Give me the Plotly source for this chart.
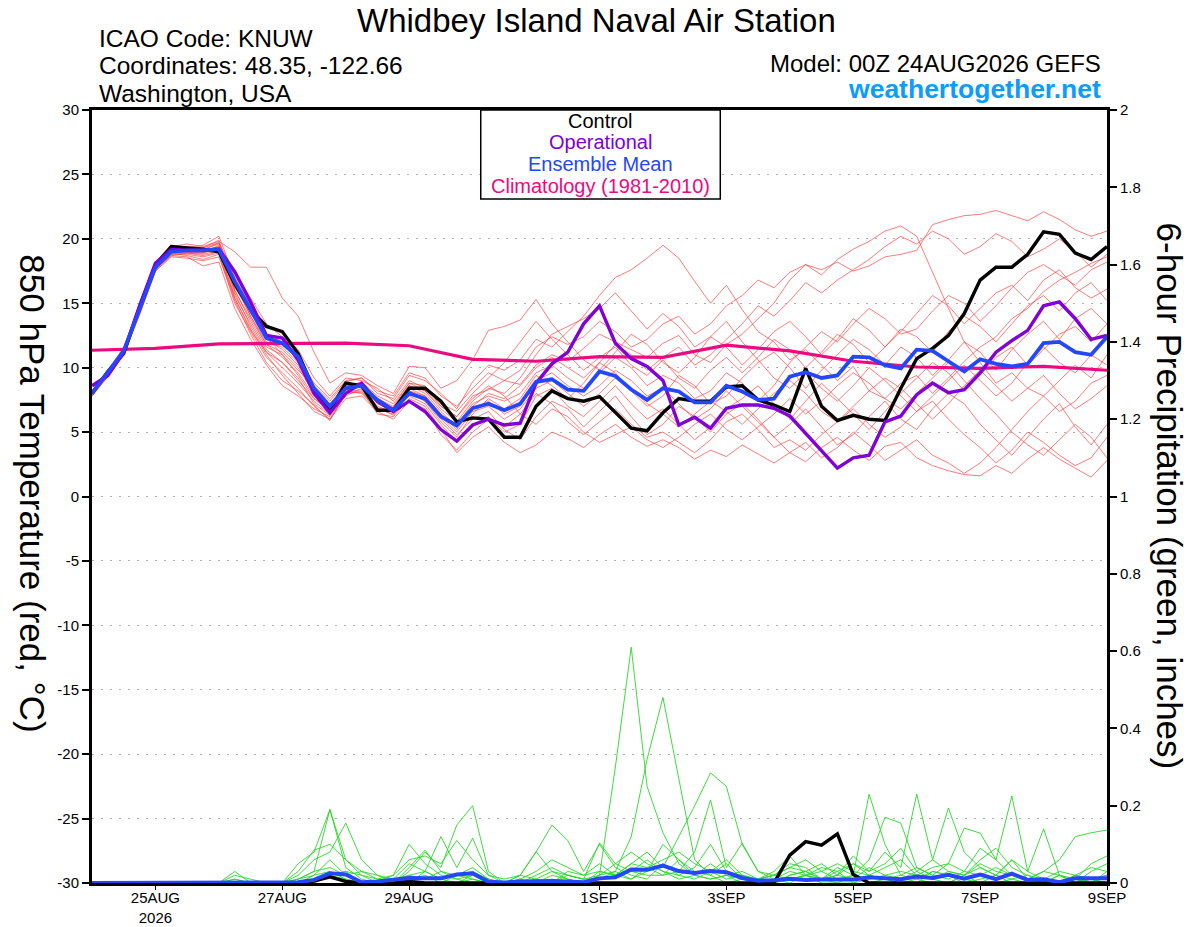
"""GEFS 850 hPa temperature / 6-hour precip plume for KNUW."""

import pandas as pd
import plotly.graph_objects as go

# ---- data -----------------------------------------------------------------
times = pd.date_range("2026-08-24 00:00", periods=65, freq="6h")
clim_days = pd.date_range("2026-08-24 00:00", periods=17, freq="D")

tick_dates = ["2026-08-25", "2026-08-27", "2026-08-29", "2026-09-01",
              "2026-09-03", "2026-09-05", "2026-09-07", "2026-09-09"]
tick_text = ["25AUG<br>2026", "27AUG", "29AUG", "1SEP",
             "3SEP", "5SEP", "7SEP", "9SEP"]

climatology = [11.35, 11.5, 11.85, 11.85, 11.9, 11.7, 10.65, 10.5, 10.85,
               10.8, 11.75, 11.3, 10.5, 10.05, 9.95, 10.1, 9.8]

control = [8.0, 9.7, 11.1, 14.7, 18.0, 19.4, 19.3, 19.2, 19.0, 16.5,
           14.5, 13.2, 12.8, 11.1, 8.3, 6.7, 8.8, 8.6, 6.7, 6.7,
           8.4, 8.4, 7.4, 5.8, 6.1, 6.0, 4.6, 4.6, 7.0, 8.2,
           7.6, 7.4, 7.75, 6.5, 5.3, 5.1, 6.5, 7.6, 7.4, 7.4,
           8.5, 8.6, 7.5, 7.1, 6.6, 9.95, 7.0, 5.9, 6.3, 6.0,
           5.9, 8.4, 10.7, 11.5, 12.5, 14.2, 16.8, 17.8, 17.8, 18.8,
           20.55, 20.35, 18.9, 18.4, 19.4]

operational = [8.6, 9.4, 11.2, 14.8, 18.1, 19.2, 19.1, 19.1, 19.2, 17.45,
               15.1, 12.5, 12.3, 10.6, 8.0, 6.5, 8.0, 8.8, 7.4, 6.6,
               7.4, 6.6, 5.2, 4.3, 5.55, 6.0, 5.55, 5.7, 8.8, 10.3,
               11.2, 13.4, 14.8, 11.9, 10.7, 10.1, 9.0, 5.55, 6.15, 5.3,
               6.85, 7.1, 7.1, 6.85, 6.25, 4.9, 3.5, 2.2, 3.0, 3.2,
               5.8, 6.25, 7.9, 8.8, 8.05, 8.3, 9.6, 11.2, 12.1, 12.9,
               14.8, 15.1, 13.8, 12.2, 12.5]

ens_mean = [8.0, 9.6, 11.3, 14.5, 17.8, 19.0, 19.1, 19.1, 19.2, 16.7,
            14.5, 12.3, 11.9, 10.85, 8.4, 7.0, 8.4, 8.6, 7.5, 6.7,
            8.0, 7.6, 6.2, 5.5, 6.85, 7.2, 6.7, 7.2, 8.9, 9.1,
            8.3, 8.2, 9.7, 9.35, 8.3, 7.5, 8.4, 8.15, 7.3, 7.3,
            8.6, 8.15, 7.5, 7.6, 9.3, 9.65, 9.2, 9.4, 10.85, 10.8,
            10.2, 9.95, 11.4, 11.3, 10.5, 9.7, 10.65, 10.3, 10.1, 10.3,
            11.9, 12.0, 11.2, 11.0, 12.4]

temp_m01 = [7.9, 9.4, 11.5, 14.6, 17.6, 18.8, 18.9, 18.8, 19.1,
            16.0, 13.8, 11.8, 11.2, 10.0, 8.0, 6.6,
            8.5, 8.9, 7.8, 7.2, 8.8, 8.6, 7.0,
            6.2, 7.8, 8.3, 9.0, 8.7, 10.2, 11.0, 10.5,
            11.5, 12.6, 12.0, 11.4, 10.8, 11.9, 12.5, 11.0, 10.4, 11.8,
            12.6, 13.8, 15.0, 16.8, 18.0, 17.6, 18.2, 17.5, 17.9, 18.6,
            18.8, 19.1, 21.1, 21.5, 21.8, 21.9, 22.2, 21.8, 21.4, 22.1,
            21.5, 20.7, 20.2, 20.6]
temp_m02 = [8.1, 9.8, 11.2, 14.3, 17.9, 19.2, 19.3, 19.5, 20.2,
            17.0, 14.8, 12.4, 11.0, 9.8, 8.6, 7.4,
            8.9, 9.2, 8.0, 7.6, 9.4, 9.0, 8.0,
            6.8, 8.9, 10.2, 9.8, 10.6, 12.2, 11.6, 12.8,
            14.0, 15.6, 17.0, 17.6, 18.5, 19.5, 18.5, 16.7, 15.0, 16.4,
            14.5, 12.8, 12.0, 10.6, 11.4, 10.2, 9.0, 10.1, 8.2, 7.6,
            8.8, 9.4, 8.0, 9.2, 10.5, 11.6, 12.4, 13.8, 14.6, 15.9,
            16.8, 17.4, 18.1, 18.6]
temp_m03 = [7.8, 9.3, 11.0, 14.1, 17.5, 18.6, 18.5, 18.3, 18.6,
            15.2, 12.6, 10.4, 9.0, 8.2, 7.1, 5.9,
            8.0, 8.2, 6.4, 6.2, 7.6, 7.0, 5.2,
            3.4, 4.6, 5.4, 4.2, 3.4, 4.0, 5.0, 4.5,
            3.8, 4.8, 5.6, 4.6, 3.9, 4.4, 3.8, 2.9, 3.6, 3.1,
            4.0, 3.3, 2.6, 3.4, 2.7, 3.8, 4.6, 3.6, 2.8, 3.9,
            4.2, 3.0, 2.4, 2.0, 1.7, 1.6, 2.4, 1.8, 2.9, 3.8,
            2.9, 2.2, 1.5, 2.8]
temp_m04 = [8.2, 9.7, 11.6, 14.9, 18.2, 19.4, 19.6, 19.4, 19.8,
            19.0, 17.8, 17.8, 15.4, 14.0, 11.2, 8.8,
            9.6, 9.4, 8.6, 8.0, 10.1, 10.0, 8.4,
            9.0, 10.6, 12.9, 13.2, 13.7, 15.3, 13.4, 12.0,
            10.6, 9.8, 11.2, 12.6, 11.8, 10.4, 9.6, 10.8, 12.4, 11.6,
            10.2, 11.4, 12.8, 13.6, 12.4, 11.0, 12.2, 13.8, 12.9, 11.6,
            12.8, 14.2, 15.6, 14.8, 13.4, 14.6, 15.8, 16.4, 15.2, 16.8,
            17.6, 16.2, 15.4, 16.1]
temp_m05 = [8.0, 9.5, 11.3, 14.4, 17.7, 18.7, 18.6, 17.9, 18.2,
            14.6, 12.2, 10.2, 8.6, 7.8, 6.8, 6.2,
            7.8, 8.4, 7.0, 6.5, 8.2, 7.6, 6.0,
            4.8, 6.0, 6.6, 5.2, 4.4, 6.2, 7.4, 6.8,
            5.4, 6.6, 7.8, 6.2, 4.8, 5.6, 7.0, 6.2, 5.0, 6.4,
            7.2, 6.0, 4.6, 5.6, 6.8, 5.4, 4.0, 4.8, 6.2, 7.4,
            6.0, 5.2, 6.8, 8.0, 7.2, 5.6, 4.4, 3.2, 4.6, 6.0,
            7.2, 5.4, 4.0, 5.6]
temp_m06 = [7.9, 9.6, 11.4, 14.5, 17.8, 19.0, 19.2, 19.0, 19.3,
            16.4, 14.0, 12.0, 11.6, 10.4, 8.2, 7.2,
            8.6, 8.7, 7.4, 6.8, 8.4, 7.8, 6.4,
            5.6, 7.2, 7.8, 7.4, 8.0, 9.6, 10.2, 9.2,
            8.4, 9.6, 10.8, 10.0, 8.6, 9.4, 8.8, 7.6, 8.2, 9.6,
            8.8, 7.4, 8.6, 10.4, 11.6, 12.8, 12.0, 13.4, 14.6, 13.8,
            12.6, 13.0, 14.4, 15.6, 15.0, 13.6, 14.8, 16.2, 17.4, 18.0,
            17.2, 16.4, 17.6, 18.2]
temp_m07 = [8.1, 9.6, 11.2, 14.6, 18.0, 19.1, 19.0, 18.9, 19.5,
            15.8, 13.2, 11.2, 10.0, 8.8, 7.4, 6.4,
            8.2, 8.0, 6.8, 6.6, 7.8, 7.2, 5.6,
            4.2, 5.4, 6.2, 5.0, 5.6, 7.8, 8.4, 7.0,
            6.2, 7.4, 8.6, 7.2, 6.0, 6.8, 5.6, 4.4, 5.4, 6.8,
            7.6, 8.6, 7.2, 6.0, 7.4, 8.8, 7.6, 6.4, 5.2, 6.6,
            8.0, 9.2, 10.4, 9.6, 8.2, 9.4, 10.8, 11.6, 10.2, 11.4,
            12.6, 13.2, 12.0, 13.4]
temp_m08 = [7.8, 9.4, 11.4, 14.4, 17.6, 18.9, 19.1, 19.2, 19.6,
            16.8, 14.2, 12.6, 12.0, 10.8, 8.8, 7.6,
            9.0, 9.2, 8.2, 7.8, 9.6, 9.2, 7.8,
            7.0, 8.4, 9.6, 9.0, 9.8, 11.6, 12.4, 11.8,
            12.4, 13.6, 12.8, 11.6, 12.2, 13.4, 14.0, 12.6, 13.4, 14.8,
            15.6, 16.8, 16.2, 17.4, 18.0, 17.2, 18.4, 19.2, 19.8, 20.6,
            21.0, 20.2, 17.4, 14.6, 12.0, 10.4, 8.8, 9.6, 8.4, 7.8,
            6.6, 7.4, 8.8, 9.4]
temp_m09 = [8.0, 9.5, 11.2, 14.2, 17.6, 18.8, 18.8, 18.6, 18.9,
            15.0, 12.8, 10.8, 9.6, 8.4, 7.0, 6.0,
            7.6, 7.8, 6.6, 6.0, 7.4, 6.8, 4.8,
            3.6, 5.0, 6.0, 5.4, 6.4, 8.0, 7.2, 5.8,
            4.8, 5.8, 6.8, 5.6, 4.6, 5.0, 4.2, 3.4, 4.4, 5.8,
            6.4, 5.2, 3.8, 4.4, 3.6, 4.8, 5.8, 6.8, 5.6, 4.6,
            5.4, 6.6, 7.4, 6.0, 4.8, 3.8, 2.6, 3.6, 5.0, 4.2,
            3.2, 2.4, 3.0, 4.6]
temp_m10 = [8.2, 9.8, 11.5, 14.7, 18.1, 19.3, 19.4, 19.3, 19.7,
            17.4, 15.4, 13.4, 12.4, 11.4, 9.2, 7.8,
            9.2, 9.0, 8.4, 7.4, 9.0, 8.4, 7.2,
            6.6, 8.0, 9.2, 10.4, 12.0, 13.6, 12.2, 11.0,
            9.8, 10.8, 11.6, 10.2, 9.4, 10.6, 9.2, 8.4, 9.8, 10.8,
            9.6, 10.8, 12.2, 11.4, 10.0, 11.2, 12.6, 11.8, 10.4, 11.6,
            13.0, 12.4, 11.2, 12.8, 14.0, 13.2, 12.0, 13.4, 14.8, 15.6,
            14.4, 15.8, 16.6, 15.2]
temp_m11 = [7.9, 9.3, 11.1, 14.3, 17.7, 18.9, 18.7, 18.4, 18.8,
            15.4, 13.0, 11.0, 9.4, 8.0, 6.6, 6.0,
            8.0, 8.1, 6.9, 6.3, 8.0, 7.4, 6.2,
            5.0, 6.6, 7.0, 6.0, 6.8, 8.4, 9.0, 8.0,
            7.0, 8.0, 9.2, 8.4, 7.2, 6.4, 5.4, 6.4, 7.4, 6.6,
            5.6, 6.8, 8.0, 9.0, 8.0, 6.6, 5.8, 7.0, 8.2, 9.2,
            8.4, 7.2, 6.0, 7.2, 8.6, 9.8, 8.6, 7.4, 8.4, 9.4,
            8.0, 6.8, 7.6, 8.6]
temp_m12 = [8.1, 9.7, 11.3, 14.5, 17.9, 19.1, 19.1, 19.1, 19.4,
            16.2, 14.4, 12.2, 11.4, 10.2, 8.0, 7.0,
            8.7, 8.8, 7.6, 7.0, 8.8, 8.2, 6.8,
            5.8, 7.4, 8.4, 8.0, 9.2, 11.0, 12.6, 13.2,
            13.8, 14.6, 15.8, 14.4, 13.0, 14.2, 13.2, 11.6, 12.4, 13.6,
            12.0, 10.6, 9.2, 8.4, 9.6, 8.4, 7.4, 8.6, 10.0, 9.0,
            7.8, 6.6, 7.8, 9.0, 10.2, 9.0, 7.8, 8.8, 10.4, 11.6,
            10.4, 9.6, 11.0, 10.2]
temp_m13 = [8.0, 9.6, 11.4, 14.6, 17.8, 19.0, 18.9, 18.7, 19.0,
            15.6, 13.4, 11.4, 10.4, 9.0, 7.6, 6.8,
            8.4, 8.6, 7.2, 6.9, 8.6, 8.0, 6.6,
            5.4, 6.8, 7.4, 6.4, 7.0, 9.0, 9.6, 8.6,
            7.8, 8.6, 9.8, 9.0, 7.8, 8.4, 7.2, 6.0, 6.8, 8.2,
            7.0, 5.8, 4.6, 3.4, 4.2, 3.0, 3.8, 5.0, 4.0, 2.8,
            3.6, 4.4, 3.2, 2.6, 1.8, 2.6, 3.8, 5.2, 6.6, 7.8,
            9.0, 10.2, 9.2, 11.0]
temp_m14 = [7.9, 9.5, 11.3, 14.4, 17.7, 18.9, 19.0, 19.1, 19.7,
            16.6, 14.0, 11.8, 10.8, 9.6, 7.8, 6.8,
            8.4, 8.5, 7.2, 6.6, 8.2, 7.8, 6.4,
            5.2, 7.0, 8.0, 7.6, 8.6, 10.0, 10.8, 10.0,
            9.2, 10.4, 11.8, 11.0, 9.8, 10.8, 11.6, 10.2, 11.0, 12.2,
            13.4, 14.8, 14.0, 15.2, 16.6, 15.8, 16.8, 17.6, 18.4, 19.4,
            20.2, 19.6, 20.6, 20.0, 18.8, 19.4, 20.4, 19.8, 18.6, 19.2,
            20.0, 19.0, 17.8, 18.8]
temp_m15 = [8.0, 9.4, 11.2, 14.3, 17.5, 18.7, 18.9, 18.9, 19.2,
            15.4, 12.9, 11.2, 10.4, 9.2, 7.2, 6.3,
            8.1, 8.3, 6.8, 6.4, 8.2, 7.4, 5.8,
            4.6, 6.4, 7.6, 6.8, 7.6, 9.4, 8.6, 7.6,
            8.8, 10.4, 9.6, 8.2, 7.0, 7.8, 9.4, 8.6, 7.2, 7.8,
            9.2, 10.4, 11.2, 10.0, 8.4, 9.8, 11.0, 12.2, 11.4, 10.2,
            11.6, 10.8, 9.4, 10.6, 12.0, 11.2, 9.8, 11.4, 12.6, 13.6,
            12.2, 13.8, 14.6, 13.4]
temp_m16 = [8.1, 9.6, 11.3, 14.6, 17.9, 19.1, 19.2, 19.3, 19.9,
            16.0, 13.6, 11.6, 11.0, 9.4, 7.6, 6.6,
            8.3, 8.6, 7.3, 6.9, 8.6, 8.2, 7.0,
            6.2, 7.6, 8.6, 7.8, 6.4, 5.6, 6.8, 6.2,
            5.0, 4.2, 4.8, 5.4, 4.4, 3.8, 4.6, 5.6, 6.4, 5.2,
            4.4, 5.4, 6.4, 7.6, 6.4, 7.4, 8.6, 9.6, 8.8, 7.6,
            6.8, 8.0, 9.2, 10.4, 9.0, 7.6, 6.4, 5.0, 4.0, 3.2,
            4.4, 5.6, 4.6, 3.0]

# 6-hour precipitation, inches
precip_control = [0, 0, 0, 0, 0, 0, 0, 0, 0, 0, 0, 0, 0,
                  0, 0.005, 0.016, 0.004, 0, 0, 0, 0.004, 0, 0, 0, 0, 0,
                  0, 0, 0, 0, 0, 0, 0, 0, 0, 0, 0, 0, 0,
                  0, 0, 0, 0, 0, 0.072, 0.107, 0.098, 0.127, 0.022, 0, 0, 0,
                  0, 0, 0, 0, 0, 0, 0, 0, 0, 0, 0, 0, 0]
precip_mean = [0, 0, 0, 0, 0, 0, 0, 0, 0, 0.002, 0, 0, 0,
               0.002, 0.008, 0.025, 0.022, 0.002, 0.004, 0.008, 0.013, 0.012, 0.012, 0.022, 0.025, 0.003,
               0.001, 0.004, 0.005, 0.005, 0.004, 0.002, 0.012, 0.015, 0.035, 0.034, 0.045, 0.031, 0.026,
               0.031, 0.028, 0.013, 0.006, 0.007, 0.011, 0.008, 0.009, 0.01, 0.009, 0.015, 0.013, 0.01,
               0.017, 0.013, 0.021, 0.011, 0.022, 0.01, 0.024, 0.008, 0.01, 0.002, 0.012, 0.012, 0.012]

precip_m01 = [0, 0, 0, 0, 0, 0, 0, 0, 0, 0, 0, 0, 0,
              0, 0.02, 0.06, 0.02, 0, 0, 0, 0.01, 0, 0, 0.02, 0.03, 0.01,
              0, 0, 0.01, 0, 0, 0, 0.02, 0.30, 0.61, 0.25, 0.13, 0.05, 0.02,
              0.01, 0.02, 0, 0, 0, 0.01, 0.02, 0, 0, 0, 0.01, 0.02, 0.01,
              0.03, 0.01, 0, 0.02, 0, 0, 0.01, 0.02, 0, 0, 0.01, 0, 0]
precip_m02 = [0, 0, 0, 0, 0, 0, 0, 0, 0, 0, 0, 0, 0,
              0.01, 0.03, 0.19, 0.06, 0.02, 0, 0, 0, 0.03, 0.01, 0, 0.02, 0,
              0, 0, 0, 0.02, 0.01, 0, 0.01, 0.03, 0.12, 0.32, 0.48, 0.27, 0.06,
              0.02, 0, 0.01, 0, 0, 0.02, 0.03, 0.01, 0, 0.02, 0, 0.01, 0,
              0.01, 0, 0, 0.02, 0.04, 0.02, 0, 0, 0.01, 0, 0, 0.01, 0.02]
precip_m03 = [0, 0, 0, 0, 0, 0, 0, 0, 0, 0, 0, 0, 0,
              0, 0, 0.02, 0.03, 0, 0, 0, 0.01, 0.02, 0, 0, 0.01, 0,
              0, 0, 0, 0, 0.02, 0.01, 0.01, 0.02, 0.05, 0.08, 0.04, 0.12, 0.20,
              0.285, 0.25, 0.10, 0.03, 0.01, 0, 0.02, 0.04, 0.03, 0, 0.02, 0.01, 0,
              0, 0.03, 0.02, 0.01, 0, 0.02, 0.06, 0.01, 0, 0, 0.02, 0.01, 0]
precip_m04 = [0, 0, 0, 0, 0, 0, 0, 0, 0, 0.03, 0, 0, 0,
              0.05, 0.08, 0.19, 0.04, 0.01, 0, 0.02, 0.10, 0.05, 0.02, 0.01, 0, 0,
              0, 0, 0, 0.01, 0, 0, 0.02, 0.03, 0.01, 0.04, 0.02, 0.06, 0.03,
              0.02, 0.05, 0.01, 0, 0, 0.02, 0.03, 0.01, 0.04, 0.02, 0.23, 0.10, 0.02,
              0.01, 0.03, 0.02, 0, 0.01, 0.02, 0.01, 0, 0, 0.02, 0, 0.01, 0.02]
precip_m05 = [0, 0, 0, 0, 0, 0, 0, 0, 0, 0.01, 0, 0, 0,
              0.02, 0.06, 0.08, 0.155, 0.06, 0.02, 0, 0.03, 0.08, 0.04, 0.15, 0.20, 0.03,
              0, 0.01, 0, 0, 0.03, 0.02, 0.05, 0.02, 0.01, 0.03, 0.10, 0.06, 0.02,
              0.01, 0.02, 0.03, 0.01, 0.03, 0.07, 0.02, 0.01, 0.02, 0.05, 0.03, 0.08, 0.04,
              0.23, 0.06, 0.03, 0.02, 0.05, 0.03, 0.02, 0.01, 0, 0.02, 0.01, 0, 0.03]
precip_m06 = [0, 0, 0, 0, 0, 0, 0, 0, 0, 0, 0, 0, 0,
              0.01, 0.03, 0.04, 0.02, 0.03, 0.02, 0.01, 0.05, 0.03, 0.12, 0.04, 0.116, 0.02,
              0.01, 0.02, 0.08, 0.15, 0.11, 0.03, 0.10, 0.04, 0.02, 0.01, 0.05, 0.02, 0.01,
              0.03, 0.01, 0.02, 0.01, 0.02, 0.05, 0.04, 0.01, 0.02, 0.07, 0.03, 0.05, 0.09,
              0.03, 0.06, 0.194, 0.08, 0.04, 0.02, 0.06, 0.03, 0.01, 0.03, 0.02, 0.01, 0]
precip_m07 = [0, 0, 0, 0, 0, 0, 0, 0, 0, 0, 0, 0, 0,
              0, 0.01, 0.02, 0.01, 0, 0, 0.01, 0.02, 0.01, 0.03, 0.02, 0.01, 0,
              0, 0.02, 0.01, 0.03, 0.01, 0, 0.03, 0.02, 0.03, 0.06, 0.03, 0.01, 0.02,
              0.05, 0.02, 0.01, 0.01, 0.02, 0.04, 0.06, 0.03, 0.01, 0.02, 0.06, 0.17, 0.155,
              0.04, 0.02, 0.05, 0.03, 0.09, 0.06, 0.225, 0.03, 0.14, 0.02, 0, 0.03, 0.05]
precip_m08 = [0, 0, 0, 0, 0, 0, 0, 0, 0, 0.01, 0, 0, 0,
              0.01, 0.02, 0.03, 0.01, 0, 0, 0, 0.02, 0.03, 0.01, 0.02, 0.04, 0.01,
              0, 0, 0.02, 0.04, 0.02, 0.01, 0.02, 0.05, 0.08, 0.05, 0.03, 0.02, 0.04,
              0.10, 0.03, 0.02, 0, 0.01, 0.03, 0.02, 0.01, 0.03, 0.05, 0.02, 0.04, 0.06,
              0.02, 0.04, 0.05, 0.142, 0.129, 0.06, 0.02, 0.01, 0.03, 0.06, 0.12, 0.13, 0.137]
precip_m09 = [0, 0, 0, 0, 0, 0, 0, 0, 0, 0, 0, 0, 0,
              0, 0.01, 0.02, 0.03, 0.02, 0.01, 0, 0.04, 0.085, 0.03, 0.01, 0.02, 0.01,
              0, 0.02, 0.081, 0.03, 0.02, 0.01, 0.104, 0.05, 0.03, 0.02, 0.02, 0.03, 0.08,
              0.215, 0.04, 0.103, 0.03, 0.02, 0.01, 0.02, 0.03, 0.05, 0.03, 0.02, 0.01, 0.02,
              0.04, 0.02, 0.01, 0.03, 0.02, 0.04, 0.02, 0.01, 0.03, 0.02, 0.01, 0.05, 0.07]
precip_m10 = [0, 0, 0, 0, 0, 0, 0, 0, 0, 0.02, 0.01, 0, 0,
              0.03, 0.085, 0.10, 0.06, 0.03, 0.01, 0.02, 0.06, 0.07, 0.05, 0.11, 0.06, 0.02,
              0, 0.01, 0.03, 0.06, 0.04, 0.02, 0.03, 0.02, 0.05, 0.04, 0.06, 0.08, 0.05,
              0.03, 0.06, 0.02, 0.01, 0.02, 0.04, 0.03, 0.05, 0.02, 0.01, 0.04, 0.02, 0.03,
              0.02, 0.01, 0.03, 0.02, 0.06, 0.09, 0.04, 0.02, 0.01, 0, 0.02, 0.04, 0.03]

temp_members = [temp_m01, temp_m02, temp_m03, temp_m04, temp_m05, temp_m06,
                temp_m07, temp_m08, temp_m09, temp_m10, temp_m11, temp_m12,
                temp_m13, temp_m14, temp_m15, temp_m16]
precip_members = [precip_m01, precip_m02, precip_m03, precip_m04, precip_m05,
                  precip_m06, precip_m07, precip_m08, precip_m09, precip_m10]

for series in temp_members + precip_members + [control, operational, ens_mean,
                                               precip_control, precip_mean]:
    assert len(series) == len(times), len(series)

# ---- styling ----------------------------------------------------------------
FONT = "Liberation Sans, Arial, sans-serif"
RED = "rgba(255,60,60,0.75)"
GREEN = "rgb(40,215,40)"
PURPLE = "#8000d8"
BLUE = "#2446ff"
MAGENTA = "#ec0a80"
WEB_BLUE = "#0a9cff"

fig = go.Figure()

for member in temp_members:
    fig.add_trace(go.Scatter(x=times, y=member, mode="lines",
                             line=dict(color=RED, width=0.9), yaxis="y"))

fig.add_trace(go.Scatter(x=clim_days, y=climatology, mode="lines",
                         line=dict(color=MAGENTA, width=3.2), yaxis="y"))
fig.add_trace(go.Scatter(x=times, y=control, mode="lines",
                         line=dict(color="black", width=3.4), yaxis="y"))
fig.add_trace(go.Scatter(x=times, y=operational, mode="lines",
                         line=dict(color=PURPLE, width=3.4), yaxis="y"))
fig.add_trace(go.Scatter(x=times, y=ens_mean, mode="lines",
                         line=dict(color=BLUE, width=3.8), yaxis="y"))

for member in precip_members:
    fig.add_trace(go.Scatter(x=times, y=member, mode="lines",
                             line=dict(color=GREEN, width=0.9), yaxis="y2"))
fig.add_trace(go.Scatter(x=times, y=precip_control, mode="lines",
                         line=dict(color="black", width=3.4), yaxis="y2"))
fig.add_trace(go.Scatter(x=times, y=precip_mean, mode="lines",
                         line=dict(color=BLUE, width=4), yaxis="y2"))

temp_ticks = list(range(-30, 31, 5))

fig.update_layout(
    width=1200, height=927,
    margin=dict(l=92, r=93, t=110, b=44),
    paper_bgcolor="white", plot_bgcolor="white",
    showlegend=False,
    font=dict(family=FONT, size=15, color="black"),
    xaxis=dict(
        type="date", automargin=False,
        range=[times[0], times[-1]],
        tickvals=pd.to_datetime(tick_dates), ticktext=tick_text,
        ticks="outside", ticklen=4, tickwidth=1, tickcolor="black",
        ticklabelstandoff=-5,
        showgrid=False, zeroline=False,
        showline=True, linewidth=3, linecolor="black", mirror=True,
        tickfont=dict(size=15),
    ),
    yaxis=dict(
        range=[-30, 30], automargin=False,
        tickvals=temp_ticks, ticktext=[str(v) for v in temp_ticks],
        ticks="outside", ticklen=7, tickwidth=1.5, tickcolor="black",
        showgrid=True, gridcolor="#b0b0b0", griddash="2px,7px", gridwidth=1.2,
        zeroline=False,
        showline=True, linewidth=3, linecolor="black", mirror=True,
        tickfont=dict(size=15),
    ),
    yaxis2=dict(
        range=[0, 2], dtick=0.2, overlaying="y", side="right", automargin=False,
        ticks="outside", ticklen=7, tickwidth=1.5, tickcolor="black",
        showgrid=False, zeroline=False,
        showline=True, linewidth=3, linecolor="black",
        tickfont=dict(size=15),
    ),
)

# legend box drawn as in the original plot
fig.add_shape(type="rect", xref="paper", yref="paper",
              x0=0.383, x1=0.619, y0=0.885, y1=1.0,
              line=dict(color="black", width=1.5), fillcolor="white", layer="above")

legend_items = [("Control", "black", 0.986),
                ("Operational", PURPLE, 0.958),
                ("Ensemble Mean", BLUE, 0.930),
                ("Climatology (1981-2010)", MAGENTA, 0.902)]
for label, color, ypos in legend_items:
    fig.add_annotation(text=label, x=0.5005, y=ypos, xref="paper", yref="paper",
                       showarrow=False, xanchor="center", yanchor="middle",
                       font=dict(size=20, color=color, family=FONT))

fig.add_annotation(text="Whidbey Island Naval Air Station",
                   x=0.497, y=1.116, xref="paper", yref="paper",
                   showarrow=False, xanchor="center", yanchor="middle",
                   font=dict(size=33, family=FONT))

station_lines = ["ICAO Code: KNUW", "Coordinates: 48.35, -122.66", "Washington, USA"]
fig.add_annotation(
    text="<br>".join(f"<span style='font-size:24.5px'>{s}</span>" for s in station_lines),
    x=0.005, y=1.057, xref="paper", yref="paper", align="left",
    showarrow=False, xanchor="left", yanchor="middle",
    font=dict(size=21, family=FONT))

fig.add_annotation(
    text=("<span style='font-size:24px'>Model: 00Z 24AUG2026 GEFS</span><br>"
          f"<span style='font-size:26.5px;color:{WEB_BLUE}'><b>weathertogether.net</b></span>"),
    x=0.996, y=1.043, xref="paper", yref="paper", align="right",
    showarrow=False, xanchor="right", yanchor="middle",
    font=dict(size=20, family=FONT))

fig.add_annotation(text="850 hPa Temperature (red, °C)", textangle=90,
                   x=-0.059, y=0.504, xref="paper", yref="paper",
                   showarrow=False, xanchor="center", yanchor="middle",
                   font=dict(size=35, family=FONT))
fig.add_annotation(text="6-hour Precipitation (green, inches)", textangle=90,
                   x=1.062, y=0.5, xref="paper", yref="paper",
                   showarrow=False, xanchor="center", yanchor="middle",
                   font=dict(size=35, family=FONT))

# drop the default 8px page margin so the 1200x927 figure fills the window
fig.write_html("out.html",
               config={"displayModeBar": False},
               post_script="document.body.style.margin='0';"
                           "document.body.style.overflow='hidden';")
